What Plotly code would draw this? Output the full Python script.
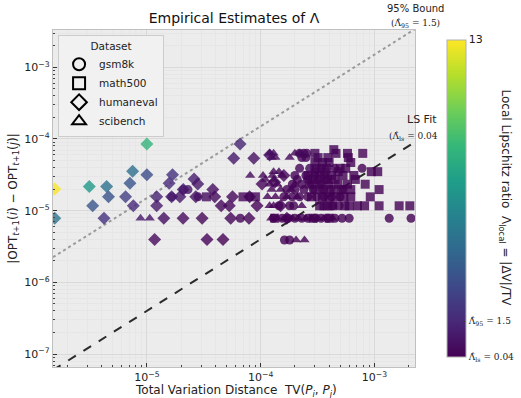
import plotly.graph_objects as go

# ---------------- data ----------------
gsm8k_tv = [1.65e-5, 2.82e-5, 8.0e-5, 2.09e-5, 2.3e-5, 6.63e-5,
            1.62e-4, 1.8e-4,
            1.3e-4, 1.55e-4, 1.75e-4, 2.0e-4, 2.3e-4, 2.6e-4, 3.0e-4, 3.4e-4, 3.9e-4, 4.5e-4, 5.2e-4, 6.0e-4, 1.35e-3, 2.1e-3,
            1.45e-4, 1.8e-4, 1.95e-4, 4.3e-4, 4.9e-4,
            1.6e-4, 1.9e-4, 2.2e-4, 2.6e-4, 3.1e-4, 3.6e-4, 4.2e-4, 5.0e-4,
            1.7e-4, 2.0e-4, 2.4e-4, 2.9e-4, 3.5e-4, 4.1e-4, 5.3e-4,
            1.9e-4, 2.3e-4, 2.8e-4, 3.4e-4, 4.0e-4,
            2.1e-4, 2.6e-4, 3.2e-4, 3.8e-4,
            2.0e-4, 2.5e-4, 3.0e-4, 3.6e-4,
            2.2e-4, 2.7e-4, 3.4e-4, 4.5e-4, 7.8e-4,
            2.3e-4, 2.5e-4,
            2.2e-4, 2.4e-4, 2.55e-4]
gsm8k_dv = [1.56e-5, 1.56e-5, 1.56e-5, 1.97e-5, 1.97e-5, 7.85e-6,
            3.9e-6, 3.9e-6,
            7.85e-6, 7.85e-6, 7.85e-6, 7.85e-6, 7.85e-6, 7.85e-6, 7.85e-6, 7.85e-6, 7.85e-6, 7.85e-6, 7.85e-6, 7.85e-6, 7.85e-6, 7.85e-6,
            1.17e-5, 1.17e-5, 1.17e-5, 1.17e-5, 1.17e-5,
            1.56e-5, 1.56e-5, 1.56e-5, 1.56e-5, 1.56e-5, 1.56e-5, 1.56e-5, 1.56e-5,
            1.97e-5, 1.97e-5, 1.97e-5, 1.97e-5, 1.97e-5, 1.97e-5, 1.97e-5,
            2.34e-5, 2.34e-5, 2.34e-5, 2.34e-5, 2.34e-5,
            2.73e-5, 2.73e-5, 2.73e-5, 2.73e-5,
            3.1e-5, 3.1e-5, 3.1e-5, 3.1e-5,
            3.9e-5, 3.9e-5, 3.9e-5, 3.9e-5, 3.9e-5,
            5.5e-5, 5.5e-5,
            6.3e-5, 6.3e-5, 6.3e-5]

math500_tv = [3.34e-5, 7.0e-5, 9.0e-5, 1.33e-4,
              2.9e-4, 4.0e-4,
              3.3e-4, 3.6e-4, 3.9e-4, 4.3e-4, 5.5e-4, 6.0e-4, 7.1e-4, 8.2e-4, 1.1e-3, 1.65e-3, 2.05e-3,
              2.8e-4, 3.5e-4, 4.0e-4, 4.6e-4, 5.4e-4, 6.2e-4, 9.2e-4,
              3.0e-4, 3.6e-4, 4.4e-4, 5.2e-4, 6.2e-4, 1.1e-3,
              2.7e-4, 3.3e-4, 4.8e-4, 5.8e-4, 8.3e-4,
              2.9e-4, 3.9e-4, 4.5e-4, 6.8e-4,
              2.6e-4, 3.3e-4, 4.2e-4, 5.3e-4, 6.6e-4,
              3.0e-4, 3.7e-4, 4.8e-4, 9.4e-4, 1.07e-3,
              3.1e-4, 3.8e-4, 5.0e-4, 5.6e-4,
              3.0e-4, 3.5e-4, 4.0e-4, 6.2e-4,
              3.2e-4, 3.9e-4, 5.9e-4,
              3.0e-4, 4.6e-4, 5.8e-4, 7.9e-4,
              4.4e-4]
math500_dv = [1.56e-5, 1.56e-5, 1.56e-5, 7.85e-6,
              7.85e-6, 7.85e-6,
              1.17e-5, 1.17e-5, 1.17e-5, 1.17e-5, 1.17e-5, 1.17e-5, 1.17e-5, 1.17e-5, 1.17e-5, 1.17e-5, 1.17e-5,
              1.56e-5, 1.56e-5, 1.56e-5, 1.56e-5, 1.56e-5, 1.56e-5, 1.56e-5,
              1.97e-5, 1.97e-5, 1.97e-5, 1.97e-5, 1.97e-5, 1.97e-5,
              2.34e-5, 2.34e-5, 2.34e-5, 2.34e-5, 2.34e-5,
              2.73e-5, 2.73e-5, 2.73e-5, 2.73e-5,
              3.1e-5, 3.1e-5, 3.1e-5, 3.1e-5, 3.1e-5,
              3.5e-5, 3.5e-5, 3.5e-5, 3.5e-5, 3.5e-5,
              3.9e-5, 3.9e-5, 3.9e-5, 3.9e-5,
              4.7e-5, 4.7e-5, 4.7e-5, 4.7e-5,
              5.5e-5, 5.5e-5, 5.5e-5,
              6.3e-5, 6.3e-5, 6.3e-5, 6.3e-5,
              7.1e-5]

humaneval_tv = [1.55e-6, 1.55e-6, 3.12e-6, 4.43e-6, 4.6e-6, 3.34e-6, 4.2e-6,
                7.5e-6, 1.0e-5, 7.1e-6, 6.5e-6, 7.6e-6, 1.0e-5,
                1.22e-5, 1.22e-5, 1.65e-5, 1.68e-5, 1.57e-5, 1.41e-5, 1.17e-5,
                6.6e-5, 5.8e-5, 8.7e-5, 1.2e-4, 2.6e-5, 2.8e-5, 2.09e-5, 3.8e-5,
                1.95e-5, 2.69e-5, 3.95e-5, 5.66e-5, 8.0e-5,
                4.5e-5, 5.3e-5, 9.3e-5,
                2.08e-5, 3.06e-5, 5.46e-5, 7.9e-5,
                3.38e-5, 4.67e-5,
                1.03e-4, 1.33e-4, 1.5e-4, 1.7e-4, 1.6e-4]
humaneval_dv = [2.0e-5, 7.85e-6, 2.17e-5, 2.17e-5, 1.56e-5, 1.17e-5, 7.85e-6,
                3.55e-5, 3.16e-5, 2.42e-5, 1.56e-5, 1.17e-5, 8.5e-5,
                1.56e-5, 1.17e-5, 1.56e-5, 3.16e-5, 2.42e-5, 7.85e-6, 3.96e-6,
                8.5e-5, 5.4e-5, 5.4e-5, 6.0e-5, 2.77e-5, 2.36e-5, 1.97e-5, 1.97e-5,
                1.56e-5, 1.56e-5, 1.56e-5, 1.56e-5, 1.56e-5,
                1.17e-5, 1.17e-5, 1.17e-5,
                7.85e-6, 7.85e-6, 7.85e-6, 7.85e-6,
                3.96e-6, 3.96e-6,
                2.36e-5, 2.5e-5, 1.17e-5, 7.85e-6, 3.1e-5]

scibench_tv = [8.8e-6, 1.06e-5, 8.1e-5, 1.05e-4, 1.27e-4,
               2.05e-4, 2.43e-4,
               1.24e-4, 1.4e-4, 1.65e-4, 1.9e-4, 2.15e-4, 2.5e-4, 2.8e-4, 3.2e-4, 3.6e-4, 4.3e-4,
               1.2e-4, 1.3e-4, 2.3e-4,
               1.15e-4, 1.35e-4, 1.7e-4, 2.1e-4,
               1.25e-4, 1.5e-4, 1.85e-4,
               1.2e-4, 1.4e-4, 2.0e-4,
               1.1e-4, 1.3e-4,
               1.55e-4,
               1.3e-4, 1.45e-4,
               1.25e-4, 1.35e-4, 1.8e-4,
               1.2e-4, 1.3e-4, 2.0e-4, 2.2e-4]
scibench_dv = [7.85e-6, 7.85e-6, 3.1e-5, 3.1e-5, 3.1e-5,
               3.9e-6, 3.9e-6,
               7.85e-6, 7.85e-6, 7.85e-6, 7.85e-6, 7.85e-6, 7.85e-6, 7.85e-6, 7.85e-6, 7.85e-6, 7.85e-6,
               1.17e-5, 1.17e-5, 1.17e-5,
               1.56e-5, 1.56e-5, 1.56e-5, 1.56e-5,
               1.97e-5, 1.97e-5, 1.97e-5,
               2.34e-5, 2.34e-5, 2.34e-5,
               2.73e-5, 2.73e-5,
               3.1e-5,
               3.5e-5, 3.5e-5,
               5.5e-5, 5.5e-5, 5.5e-5,
               6.3e-5, 6.3e-5, 6.3e-5, 6.3e-5]

lambda_ls = 0.04
lambda_95 = 1.5
lambda_max = 13

x_range_log = [-5.825, -2.643]
y_range_log = [-7.18, -2.48]

datasets = [
    ("gsm8k", gsm8k_tv, gsm8k_dv, "circle"),
    ("math500", math500_tv, math500_dv, "square"),
    ("humaneval", humaneval_tv, humaneval_dv, "diamond"),
    ("scibench", scibench_tv, scibench_dv, "triangle-up"),
]

FONT = "DejaVu Sans"
SERIF = "DejaVu Serif"
fig = go.Figure()

# reference lines
x_lo, x_hi = 10 ** x_range_log[0], 10 ** x_range_log[1]
fig.add_trace(go.Scatter(x=[x_lo, x_hi], y=[lambda_95 * x_lo, lambda_95 * x_hi],
                         mode="lines", line=dict(color="#9a9a9a", width=2, dash="dot"),
                         showlegend=False, hoverinfo="skip"))
fig.add_trace(go.Scatter(x=[x_lo, x_hi], y=[lambda_ls * x_lo, lambda_ls * x_hi],
                         mode="lines", line=dict(color="#2b2b2b", width=2, dash="dash"),
                         showlegend=False, hoverinfo="skip"))

first = True
for name, tv, dv, sym in datasets:
    ratio = [d / t for t, d in zip(tv, dv)]
    fig.add_trace(go.Scatter(
        x=tv, y=dv, mode="markers", showlegend=False, name=name,
        marker=dict(symbol=sym, size=9 if sym != "diamond" else 10, color=ratio,
                    colorscale="Viridis", cmin=lambda_ls, cmax=lambda_max,
                    opacity=0.8, line=dict(width=0),
                    showscale=first,
                    colorbar=dict(
                        x=1.06, xanchor="left", y=0.5, yanchor="middle",
                        len=1.0, lenmode="fraction", thickness=19,
                        outlinecolor="#b0b0b0", outlinewidth=1,
                        tickmode="array", tickvals=[lambda_ls, lambda_95, lambda_max],
                        ticktext=["Λ̂<sub>ls</sub> = 0.04", "Λ̂<sub>95</sub> = 1.5",
                                  "<span style='font-family:DejaVu Sans;font-size:11px'>13</span>"],
                        ticks="inside", ticklen=3, tickcolor="#333",
                        tickfont=dict(family=SERIF, size=9, color="#222"),
                    ) if first else None)))
    first = False

# legend entries (open black markers)
for name, tv, dv, sym in datasets:
    fig.add_trace(go.Scatter(x=[None], y=[None], mode="markers", name=name,
                             marker=dict(symbol=sym + "-open", size=9, color="black",
                                         line=dict(width=1.2, color="black"))))

minor_vals = [m * 10 ** e for e in range(-8, -1) for m in range(2, 10)]

axis_common = dict(
    type="log", showline=True, linecolor="#c0c0c0", linewidth=1.2, mirror=True,
    showgrid=True, gridcolor="#d9d9d9", gridwidth=1, zeroline=False,
    ticks="inside", ticklen=4, tickcolor="#333",
    tickfont=dict(family=FONT, size=11, color="#222"),
    minor=dict(tickvals=minor_vals, ticks="inside", ticklen=2, tickcolor="#444",
               showgrid=True, gridcolor="#e6e6e6", gridwidth=0.6),
)

fig.update_xaxes(**axis_common, range=x_range_log,
                 tickvals=[1e-5, 1e-4, 1e-3],
                 ticktext=["10<sup>−5</sup>", "10<sup>−4</sup>", "10<sup>−3</sup>"])
fig.update_yaxes(**axis_common, range=y_range_log,
                 tickvals=[1e-7, 1e-6, 1e-5, 1e-4, 1e-3],
                 ticktext=["10<sup>−7</sup>", "10<sup>−6</sup>", "10<sup>−5</sup>", "10<sup>−4</sup>", "10<sup>−3</sup>"],
                 title=dict(text="|OPT<sub><i>t</i>+1</sub>(<i>i</i>) − OPT<sub><i>t</i>+1</sub>(<i>j</i>)|",
                            font=dict(family=FONT, size=12, color="#222"), standoff=4))

fig.update_layout(
    width=521, height=398,
    margin=dict(l=53, r=106, t=30, b=31, autoexpand=False),
    paper_bgcolor="white", plot_bgcolor="#ececec",
    title=dict(text="Empirical Estimates of Λ", x=234 / 521, xanchor="center",
               y=1 - 18 / 398, yanchor="middle",
               font=dict(family=FONT, size=14, color="#111")),
    legend=dict(x=0.014, y=0.985, xanchor="left", yanchor="top",
                bgcolor="rgba(242,242,242,0.9)", bordercolor="#cccccc", borderwidth=1,
                font=dict(family=FONT, size=10.5, color="#222"),
                title=dict(text="Dataset", side="top center",
                           font=dict(family=FONT, size=10.5, color="#222")),
                tracegroupgap=0, itemsizing="constant"),
    showlegend=True,
    annotations=[
        dict(text="Total Variation Distance  TV(<i>P<sub>i</sub></i>, <i>P<sub>j</sub></i>)",
             xref="paper", yref="paper", x=(236 - 53) / 362, y=-(391 - 367) / 337,
             xanchor="center", yanchor="middle", showarrow=False,
             font=dict(family=FONT, size=12, color="#222")),
        dict(text="95% Bound", xref="paper", yref="paper", x=1.0, y=1 + 14 / 337,
             xanchor="center", yanchor="bottom", showarrow=False,
             font=dict(family=FONT, size=10, color="#222")),
        dict(text="(Λ̂<sub>95</sub> = 1.5)", xref="paper", yref="paper", x=1.0, y=1 - 1 / 337,
             xanchor="center", yanchor="bottom", showarrow=False,
             font=dict(family=SERIF, size=9, color="#222")),
        dict(text="LS Fit", xref="paper", yref="paper", x=1.02, y=1 - 98 / 337,
             xanchor="center", yanchor="bottom", showarrow=False,
             font=dict(family=FONT, size=11, color="#222")),
        dict(text="(Λ̂<sub>ls</sub> = 0.04", xref="paper", yref="paper", x=1.07, y=1 - 114 / 337,
             xanchor="right", yanchor="bottom", showarrow=False,
             font=dict(family=SERIF, size=9, color="#222")),
        dict(text="Local Lipschitz ratio  Λ<sub>local</sub> = |ΔV|/TV", textangle=90,
             xref="paper", yref="paper", x=(505 - 53) / 362, y=0.5,
             xanchor="center", yanchor="middle", showarrow=False,
             font=dict(family=FONT, size=12, color="#222")),
    ],
)

fig.write_html("out.html", config={"displayModeBar": False},
               post_script="document.body.style.margin='0px';document.body.style.overflow='hidden';")
